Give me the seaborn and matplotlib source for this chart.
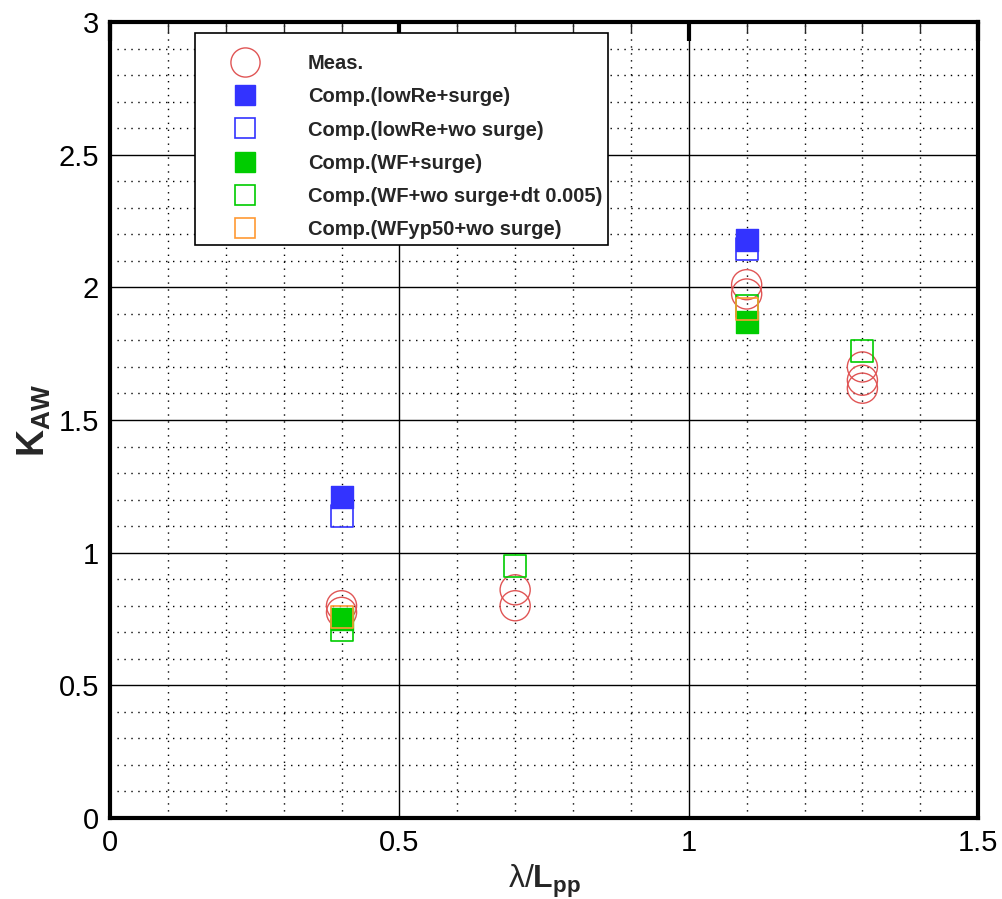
import matplotlib
matplotlib.use("Agg")
import matplotlib.pyplot as plt
import numpy as np
import pandas as pd
import seaborn as sns
from matplotlib.ticker import MultipleLocator
from matplotlib.lines import Line2D

# --- data ---
meas_x = [0.4, 0.4, 0.7, 0.7, 1.1, 1.1, 1.3, 1.3, 1.3]
meas_y = [0.80, 0.775, 0.86, 0.80, 2.01, 1.975, 1.70, 1.65, 1.62]

lowre_surge_x = [0.4, 1.1]
lowre_surge_y = [1.21, 2.18]

lowre_wo_x = [0.4, 1.1]
lowre_wo_y = [1.14, 2.145]

wf_surge_x = [0.4, 1.1]
wf_surge_y = [0.75, 1.87]

wf_wo_dt_x = [0.4, 0.7, 1.1, 1.3]
wf_wo_dt_y = [0.71, 0.95, 1.93, 1.76]

wfyp50_wo_x = [0.4, 1.1]
wfyp50_wo_y = [0.757, 1.92]

labels = ["Meas.", "Comp.(lowRe+surge)", "Comp.(lowRe+wo surge)", "Comp.(WF+surge)",
          "Comp.(WF+wo surge+dt 0.005)", "Comp.(WFyp50+wo surge)"]

sns.set_style("white")
plt.rcParams['font.family'] = ['Liberation Sans', 'DejaVu Sans']
plt.rcParams['mathtext.fontset'] = 'custom'
plt.rcParams['mathtext.rm'] = 'Liberation Sans'
plt.rcParams['mathtext.it'] = 'Liberation Sans:italic'
plt.rcParams['mathtext.bf'] = 'Liberation Sans:bold'

fig = plt.figure(figsize=(10.02, 8.99), dpi=100)
ax = fig.add_axes([0.1098, 0.0901, 0.8664, 0.8854])

blue = "#3333ff"
green = "#00cc00"
orange = "#ff9933"
red = "#e05555"

sq = 250
circ = 470

# draw order: circles, open squares, filled squares, orange on top
sns.scatterplot(x=meas_x, y=meas_y, ax=ax, marker="o", s=circ, facecolors="none",
                edgecolor=red, linewidth=1.0, zorder=3)
sns.scatterplot(x=wf_wo_dt_x, y=wf_wo_dt_y, ax=ax, marker="s", s=sq, facecolors="none",
                edgecolor=green, linewidth=1.2, zorder=4)
sns.scatterplot(x=lowre_wo_x, y=lowre_wo_y, ax=ax, marker="s", s=sq, facecolors="none",
                edgecolor=blue, linewidth=1.2, zorder=4)
sns.scatterplot(x=lowre_surge_x, y=lowre_surge_y, ax=ax, marker="s", s=sq, color=blue,
                edgecolor=blue, linewidth=1.0, zorder=5)
sns.scatterplot(x=wf_surge_x, y=wf_surge_y, ax=ax, marker="s", s=sq, color=green,
                edgecolor=green, linewidth=1.0, zorder=5)
sns.scatterplot(x=wfyp50_wo_x, y=wfyp50_wo_y, ax=ax, marker="s", s=sq, facecolors="none",
                edgecolor=orange, linewidth=1.2, zorder=6)

ax.set_xlim(0, 1.5)
ax.set_ylim(0, 3)
ax.xaxis.set_minor_locator(MultipleLocator(0.1))
ax.yaxis.set_minor_locator(MultipleLocator(0.1))
ax.set_xticks([0, 0.5, 1, 1.5], ["0", "0.5", "1", "1.5"])
ax.set_yticks([0, 0.5, 1, 1.5, 2, 2.5, 3], ["0", "0.5", "1", "1.5", "2", "2.5", "3"])

ax.grid(which="major", color="black", linestyle="-", linewidth=1.0, zorder=1)
ax.grid(which="minor", color="black", linestyle=(0, (1, 4)), linewidth=1.0, zorder=1)
ax.set_axisbelow(True)

for s in ax.spines.values():
    s.set_linewidth(3)
    s.set_color("black")
ax.tick_params(which="major", direction="in", length=14, width=3, labelsize=21,
               top=True, right=False, pad=8, colors="black")
ax.tick_params(which="minor", direction="in", length=8, width=1, top=True, right=False)

ax.set_xlabel("λ/$\\mathbf{L_{pp}}$", fontsize=23, labelpad=4)
ax.set_ylabel(r"$\mathbf{K_{AW}}$", fontsize=27, labelpad=4)

# legend
handles = [
    Line2D([], [], ls="none", marker="o", ms=21, mfc="none", mec=red, mew=1.0),
    Line2D([], [], ls="none", marker="s", ms=15, mfc=blue, mec=blue),
    Line2D([], [], ls="none", marker="s", ms=15, mfc="none", mec=blue, mew=1.2),
    Line2D([], [], ls="none", marker="s", ms=15, mfc=green, mec=green),
    Line2D([], [], ls="none", marker="s", ms=15, mfc="none", mec=green, mew=1.2),
    Line2D([], [], ls="none", marker="s", ms=15, mfc="none", mec=orange, mew=1.2),
]
# a tiny blank title gives the extra room above the first row
leg = ax.legend(handles, labels, loc="upper left", bbox_to_anchor=(0.098, 0.986),
                frameon=True, fancybox=False, prop={"weight": "bold", "size": 14.5},
                handletextpad=0.9, labelspacing=0.7, borderpad=0.3, handlelength=4.4,
                borderaxespad=0, title=" ", title_fontsize=1)
leg.get_frame().set_edgecolor("black")
leg.get_frame().set_linewidth(1.2)
leg.get_frame().set_alpha(1)
leg.set_zorder(10)

fig.savefig("out.png", dpi=100)
